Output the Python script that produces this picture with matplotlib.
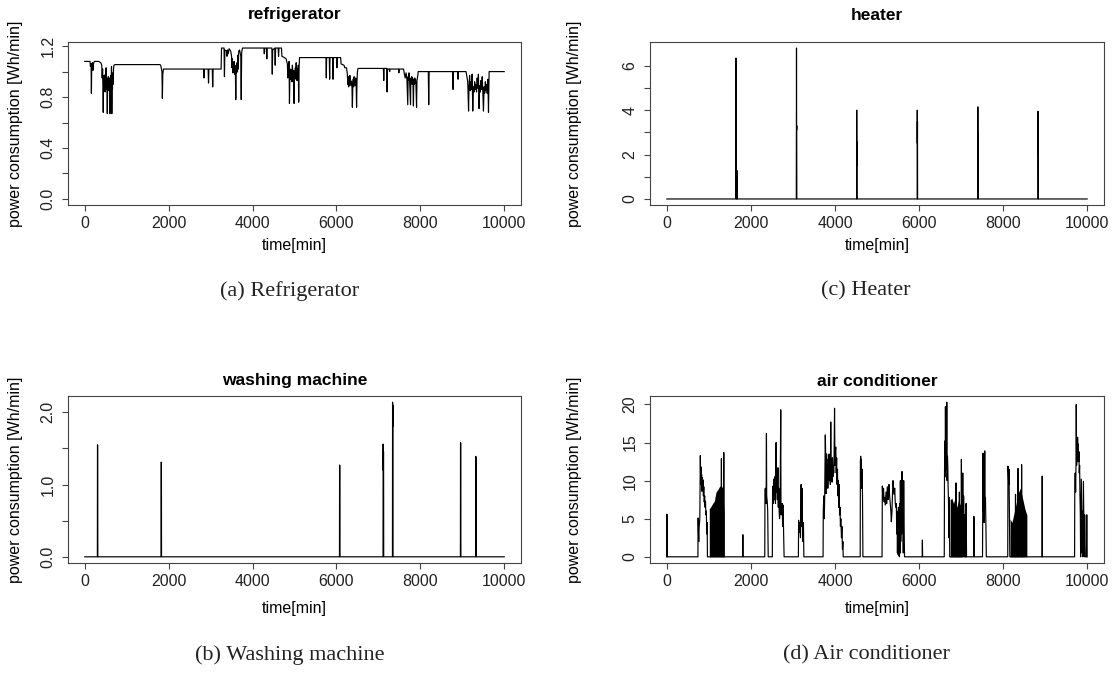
import matplotlib
matplotlib.use("Agg")
import matplotlib.pyplot as plt
import numpy as np

# ---- data (time [min], power [Wh/min]) ----
fridge_points = [
    (0, 1.08), (125, 1.08), (135, 1.04), (150, 1.06), (158, 0.83), (166, 1.06), (185, 1.07),
    (195, 1.01), (205, 1.06), (230, 1.08), (330, 1.08), (380, 1.07), (405, 1.05),
    (415, 0.95), (425, 1.02), (435, 0.88), (440, 0.68), (447, 0.95), (455, 0.86), (462, 0.97),
    (470, 0.88), (478, 0.93), (485, 0.84), (492, 0.98), (500, 0.86), (508, 1.03), (515, 0.87),
    (522, 0.95), (530, 0.85), (537, 0.67), (545, 0.92), (552, 0.85), (560, 0.96), (568, 0.88),
    (575, 0.93), (582, 0.86), (590, 0.95), (600, 0.67), (607, 0.90), (615, 0.85), (622, 0.97),
    (630, 0.88), (637, 1.04), (645, 0.67), (652, 0.92), (660, 0.86), (668, 0.99), (675, 0.90),
    (685, 1.02), (695, 1.05), (720, 1.055), (1790, 1.055), (1810, 1.05), (1840, 1.0),
    (1850, 0.79), (1860, 0.98), (1875, 1.02), (2830, 1.02), (2840, 0.95), (2850, 1.02),
    (2940, 1.02), (2950, 0.91), (2960, 1.02), (3040, 1.02), (3050, 0.88), (3060, 1.02),
    (3250, 1.02), (3260, 1.185), (3320, 1.185), (3330, 0.96), (3340, 1.17), (3380, 1.16),
    (3390, 1.12), (3400, 1.17), (3420, 1.14), (3440, 1.18), (3480, 1.16), (3500, 1.12),
    (3510, 1.03), (3520, 1.10), (3530, 0.99), (3540, 1.06), (3550, 1.00), (3560, 1.08),
    (3570, 0.98), (3580, 1.05), (3590, 1.01), (3600, 0.78), (3610, 1.04), (3620, 0.99),
    (3630, 1.07), (3640, 1.00), (3650, 1.13), (3660, 1.02), (3670, 1.16), (3690, 1.17),
    (3720, 1.12), (3730, 0.78), (3740, 1.15), (3760, 1.185), (4270, 1.185), (4280, 1.14),
    (4290, 1.185), (4330, 1.185), (4340, 1.10), (4350, 1.185), (4460, 1.185), (4470, 0.98),
    (4480, 1.17), (4530, 1.185), (4540, 1.05), (4550, 1.185), (4610, 1.185), (4620, 1.12),
    (4630, 1.185), (4690, 1.185), (4700, 1.12), (4760, 1.11), (4800, 1.10), (4830, 1.06),
    (4840, 0.95), (4850, 1.03), (4860, 0.96), (4870, 1.08), (4880, 0.75), (4890, 0.98),
    (4900, 0.94), (4910, 1.02), (4920, 0.95), (4930, 1.00), (4940, 0.92), (4950, 1.05),
    (4960, 0.97), (4970, 0.93), (4980, 1.01), (4990, 0.75), (5000, 0.99), (5010, 0.94),
    (5020, 1.03), (5030, 0.96), (5040, 1.07), (5050, 0.97), (5060, 0.93), (5070, 1.02),
    (5080, 0.96), (5090, 1.05), (5100, 0.76), (5110, 1.04), (5120, 1.11), (5750, 1.11),
    (5758, 0.95), (5766, 1.11), (5830, 1.11), (5838, 0.94), (5846, 1.11), (5910, 1.11),
    (5918, 0.94), (5926, 1.11), (6005, 1.11), (6012, 1.03), (6020, 1.11), (6100, 1.11),
    (6110, 1.06), (6180, 1.05), (6200, 1.03), (6240, 1.03), (6260, 0.98),
    (6270, 0.90), (6280, 0.96), (6290, 0.88), (6300, 0.94), (6310, 0.89), (6320, 0.97),
    (6330, 0.90), (6340, 0.93), (6350, 0.89), (6360, 0.92), (6370, 0.88), (6380, 0.72),
    (6390, 0.89), (6400, 0.94), (6410, 0.88), (6420, 0.96), (6430, 0.90), (6440, 0.92),
    (6450, 0.89), (6460, 0.95), (6470, 0.90), (6480, 0.72), (6490, 0.92), (6500, 1.00),
    (6515, 1.025), (7120, 1.025), (7128, 0.93), (7136, 1.025), (7200, 1.025), (7208, 0.84),
    (7216, 1.02), (7260, 1.02), (7268, 1.0), (7276, 1.02), (7480, 1.02), (7488, 0.99),
    (7496, 1.02), (7600, 1.02), (7620, 0.98), (7640, 0.95), (7660, 0.99), (7680, 0.94),
    (7700, 0.74), (7710, 0.96), (7720, 0.93), (7730, 0.99), (7745, 0.92), (7766, 0.74),
    (7775, 0.95), (7785, 0.91), (7795, 0.96), (7805, 0.90), (7815, 0.95), (7825, 0.91),
    (7835, 0.73), (7845, 0.94), (7855, 0.90), (7865, 0.95), (7875, 0.91), (7885, 0.94),
    (7895, 0.90), (7910, 0.72), (7920, 0.93), (7935, 0.96), (7950, 1.0), (7965, 1.0),
    (8190, 1.0), (8200, 0.74), (8210, 1.0), (8770, 1.0), (8780, 0.86), (8790, 1.0),
    (8890, 1.0), (8900, 0.94), (8910, 1.0), (9090, 1.0), (9110, 0.96), (9130, 0.92),
    (9150, 0.69), (9160, 0.88), (9175, 0.97), (9190, 0.85), (9205, 0.92), (9220, 0.86),
    (9235, 0.98), (9250, 0.69), (9265, 0.88), (9280, 0.84), (9295, 0.92), (9310, 0.86),
    (9325, 0.90), (9340, 0.84), (9355, 0.95), (9370, 0.87), (9385, 0.98), (9400, 0.71),
    (9415, 0.89), (9430, 0.84), (9445, 0.93), (9460, 0.86), (9475, 0.96), (9490, 0.84),
    (9505, 0.69), (9520, 0.88), (9535, 0.83), (9550, 0.92), (9565, 0.85), (9580, 0.90),
    (9595, 0.83), (9610, 0.94), (9625, 0.68), (9640, 1.0), (10000, 1.0),
]

heater_points = [
    (0, 0), (1640, 0), (1645, 6.35), (1648, 3.2), (1650, 3.7), (1653, 0), (1665, 0),
    (1668, 1.28), (1672, 0.4), (1675, 0), (3080, 0), (3085, 6.8), (3088, 3.1), (3090, 3.3),
    (3093, 0), (4515, 0), (4518, 4.0), (4521, 1.5), (4523, 2.6), (4526, 0), (5955, 0),
    (5958, 4.0), (5961, 2.5), (5963, 3.5), (5966, 0), (7396, 0), (7399, 4.15), (7402, 2.3),
    (7404, 3.0), (7407, 0), (8828, 0), (8831, 3.95), (8834, 2.0), (8836, 2.1), (8839, 0),
    (10000, 0),
]

washer_points = [
    (0, 0), (300, 0), (303, 1.55), (308, 1.54), (311, 0), (1818, 0), (1821, 1.31),
    (1827, 1.30), (1830, 0), (6072, 0), (6075, 1.27), (6081, 1.26), (6084, 0), (7110, 0),
    (7113, 1.56), (7116, 1.2), (7119, 1.47), (7124, 1.45), (7127, 0), (7335, 0),
    (7338, 2.14), (7342, 1.8), (7346, 2.1), (7349, 0), (8955, 0), (8958, 1.58),
    (8964, 1.57), (8967, 0), (9320, 0), (9323, 1.39), (9327, 1.0), (9331, 1.37),
    (9334, 0), (10000, 0),
]

aircon_points = [
    (0, 0), (2, 5.6), (6, 0), (740, 0),
    (745, 5.1), (752, 3.2), (760, 2.0), (770, 4.0), (785, 5.0), (797, 13.3), (805, 10.5),
    (812, 11.8), (820, 9.5), (828, 10.8), (836, 8.6), (844, 10.4), (852, 9.0), (860, 10.1),
    (870, 8.0), (880, 9.2), (890, 7.2), (900, 8.0), (910, 6.5), (920, 7.3), (930, 5.5),
    (940, 6.0), (950, 3.0), (960, 4.5), (966, 0),
    (1295, 0), (1299, 12.9), (1303, 0), (1351, 0), (1355, 13.7), (1359, 0),
    (1805, 0), (1809, 2.9), (1813, 0),
    (2330, 0), (2335, 8.8), (2345, 9.0), (2355, 8.2), (2362, 7.0), (2370, 16.2), (2376, 8.0),
    (2390, 7.2), (2400, 6.0), (2412, 0),
    (2510, 0), (2515, 8.5), (2525, 9.3), (2535, 7.0), (2545, 10.2), (2555, 7.5), (2565, 10.5),
    (2575, 8.0), (2585, 7.0), (2600, 15.0), (2608, 8.5), (2620, 11.0), (2630, 7.5),
    (2643, 11.7), (2652, 6.5), (2662, 9.0), (2672, 6.0), (2682, 5.0), (2695, 7.0),
    (2710, 19.3), (2716, 5.5), (2725, 7.0), (2735, 6.2), (2745, 7.0), (2755, 4.0),
    (2765, 6.8), (2778, 3.0), (2790, 0),
    (3130, 0), (3135, 4.8), (3150, 3.2), (3165, 4.5), (3180, 2.5), (3195, 9.5), (3205, 4.0),
    (3215, 9.0), (3225, 5.0), (3240, 2.0), (3250, 4.5), (3260, 0),
    (3717, 0), (3722, 6.0), (3735, 8.0), (3745, 5.0), (3755, 7.5), (3770, 16.0), (3780, 13.0),
    (3790, 8.3), (3800, 13.5), (3810, 11.0), (3820, 12.8), (3830, 9.0), (3840, 12.0),
    (3850, 10.5), (3860, 13.5), (3870, 10.0), (3880, 12.5), (3890, 9.5), (3900, 17.7),
    (3910, 10.0), (3920, 11.5), (3930, 9.8), (3940, 13.0), (3950, 10.5), (3960, 12.0),
    (3970, 11.0), (3980, 13.5), (3990, 19.5), (4000, 12.0), (4010, 14.0), (4020, 14.4),
    (4030, 11.0), (4040, 13.0), (4050, 9.5), (4060, 11.5), (4070, 8.0), (4080, 10.0),
    (4090, 6.5), (4100, 9.5), (4110, 5.5), (4120, 6.5), (4130, 4.0), (4140, 5.0),
    (4155, 2.5), (4165, 4.0), (4178, 1.0), (4188, 2.0), (4196, 0),
    (4600, 0), (4605, 12.5), (4612, 13.2), (4620, 10.0), (4628, 12.8), (4636, 9.0),
    (4645, 11.5), (4655, 8.0), (4665, 0),
    (5120, 0), (5127, 9.3), (5140, 7.5), (5155, 9.0), (5170, 7.2), (5185, 7.8), (5200, 6.8),
    (5215, 8.5), (5230, 7.0), (5245, 9.2), (5262, 7.5), (5275, 8.8), (5286, 9.5), (5300, 8.0),
    (5315, 7.0), (5330, 6.0), (5341, 4.6), (5355, 5.8), (5370, 8.5), (5381, 10.0),
    (5395, 9.0), (5410, 8.2), (5421, 9.0), (5435, 7.0), (5450, 6.5), (5460, 7.0),
    (5470, 3.0), (5478, 6.0), (5486, 0.5), (5494, 5.5), (5502, 0.3), (5510, 6.5),
    (5518, 0.2), (5526, 5.0), (5534, 0), (5542, 7.0), (5550, 0.5), (5556, 10.0),
    (5565, 2.0), (5575, 8.0), (5585, 3.0), (5595, 11.2), (5605, 4.0), (5615, 7.0),
    (5625, 0.5), (5635, 10.0), (5645, 4.0), (5655, 0),
    (6075, 0), (6080, 2.2), (6085, 0),
    (6600, 0), (6605, 9.8), (6612, 15.2), (6620, 10.5), (6628, 19.7), (6636, 12.0),
    (6644, 13.2), (6652, 11.5), (6660, 20.3), (6668, 10.0), (6676, 13.2), (6684, 12.0),
    (6692, 9.0), (6700, 7.5), (6710, 2.5), (6720, 7.8), (6730, 0),
    (6875, 0), (6880, 9.7), (6885, 0), (6955, 0), (6960, 8.5), (6965, 0), (7003, 0),
    (7008, 12.8), (7013, 0), (7030, 0), (7040, 11.0), (7050, 2.0), (7060, 8.0),
    (7070, 4.5), (7080, 5.5), (7090, 0), (7110, 0), (7120, 7.0), (7130, 0),
    (7300, 0), (7305, 5.3), (7310, 3.5), (7315, 0),
    (7510, 0), (7515, 5.0), (7522, 13.6), (7530, 6.0), (7540, 8.0), (7548, 4.5),
    (7556, 7.5), (7563, 13.9), (7570, 7.0), (7580, 7.8), (7590, 4.5), (7600, 0),
    (8110, 0), (8116, 11.9), (8124, 11.0), (8132, 9.5), (8140, 11.5), (8150, 5.0), (8160, 0),
    (8290, 0), (8295, 8.2), (8300, 0), (8350, 0), (8355, 11.6), (8360, 0), (8435, 0),
    (8440, 12.1), (8445, 0), (8520, 0), (8525, 6.0), (8535, 5.8), (8545, 0),
    (8925, 0), (8930, 10.6), (8935, 0),
    (9700, 0), (9705, 9.0), (9715, 11.0), (9725, 8.5), (9735, 12.5), (9740, 20.0),
    (9748, 12.0), (9756, 14.0), (9764, 12.5), (9772, 15.7), (9780, 13.0), (9788, 14.8),
    (9796, 12.5), (9804, 13.8), (9812, 11.0), (9820, 12.0), (9828, 8.0), (9836, 6.0),
    (9844, 0), (9852, 5.5), (9860, 10.2), (9868, 5.0), (9876, 0.5), (9884, 6.0),
    (9892, 0), (9900, 5.0), (9910, 9.9), (9920, 5.5), (9930, 0), (9940, 5.5), (9950, 0),
    (9980, 0), (9985, 5.5), (9995, 5.5), (10000, 0),
]

# stretches where the air conditioner switches on/off every minute (drawn solid)
aircon_dense = [
    ([1010, 1050, 1090, 1130, 1170, 1210, 1250, 1290, 1330, 1365],
     [6.3, 6.6, 7.0, 7.3, 8.5, 8.8, 9.2, 9.4, 9.0, 5.5]),
    ([6740, 6780, 6820, 6860, 6900, 6940, 6980, 7020, 7060, 7100, 7120],
     [7.5, 7.7, 7.0, 7.8, 6.5, 7.5, 6.8, 7.5, 5.0, 4.5, 3.0]),
    ([8165, 8210, 8250, 8290, 8330, 8370, 8410, 8450, 8490, 8530, 8565],
     [5.0, 4.5, 5.5, 6.5, 7.5, 8.5, 9.0, 8.0, 7.0, 6.0, 5.5]),
]

x_ticks = [0, 2000, 4000, 6000, 8000, 10000]
fridge_yticks = [0.0, 0.2, 0.4, 0.6, 0.8, 1.0, 1.2]
heater_yticks = [0, 1, 2, 3, 4, 5, 6]
washer_yticks = [0.0, 0.5, 1.0, 1.5, 2.0]
aircon_yticks = [0, 5, 10, 15, 20]

W, H = 1115, 682
FG = "#444444"
plt.rcParams["font.family"] = ["Liberation Sans", "DejaVu Sans"]


def draw_panel(fig, box, points, title, yticks, ylabels, title_y, ylab_x, xlab_y,
               dense=()):
    x0, y0, x1, y1 = box
    ax = fig.add_axes([x0 / W, 1 - y1 / H, (x1 - x0) / W, (y1 - y0) / H])
    t, v = np.array(points, dtype=float).T
    for dt, dv in dense:
        ax.fill_between(dt, 0, dv, color="black", lw=0)
    ax.plot(t, v, color="black", lw=0.85)
    top = v.max()
    ax.set_xlim(-400, 10400)
    ax.set_ylim(-0.04 * top, 1.04 * top)
    ax.set_xticks(x_ticks)
    ax.set_xticklabels([str(x) for x in x_ticks])
    ax.set_yticks(yticks)
    ax.set_yticklabels(ylabels, rotation=90, va="center")
    for s in ax.spines.values():
        s.set_color(FG)
        s.set_linewidth(0.8)
    ax.tick_params(direction="out", length=4.5, width=0.8, color=FG,
                   labelsize=11.5, labelcolor="#222222")
    ax.tick_params(axis="x", pad=3.5)
    ax.tick_params(axis="y", pad=4.5)
    ax.text(0.5, (y1 - title_y) / (y1 - y0), title, transform=ax.transAxes,
            ha="center", va="center", fontsize=12.5, fontweight="bold")
    ax.set_xlabel("time[min]", fontsize=11.5)
    ax.set_ylabel("power consumption [Wh/min]", fontsize=11.5)
    ax.xaxis.set_label_coords(0.5, (y1 - xlab_y + 7) / (y1 - y0))
    ax.yaxis.set_label_coords((ylab_x + 8 - x0) / (x1 - x0), 0.5)
    return ax


fig = plt.figure(figsize=(W / 100, H / 100), dpi=100)

draw_panel(fig, (68, 42, 521, 205), fridge_points, "refrigerator", fridge_yticks,
           ["0.0", "", "0.4", "", "0.8", "", "1.2"], 15, 15, 245)
draw_panel(fig, (650, 42, 1104, 205), heater_points, "heater", heater_yticks,
           ["0", "", "2", "", "4", "", "6"], 15, 574, 245)
draw_panel(fig, (68, 396, 521, 563), washer_points, "washing machine", washer_yticks,
           ["0.0", "", "1.0", "", "2.0"], 381, 15, 608)
draw_panel(fig, (650, 396, 1104, 563), aircon_points, "air conditioner", aircon_yticks,
           ["0", "5", "10", "15", "20"], 381, 574, 608, dense=aircon_dense)

captions = [(290, 291, "(a) Refrigerator"), (866, 291, "(c) Heater"),
            (290, 655, "(b) Washing machine"), (866, 655, "(d) Air conditioner")]
for cx, cy, text in captions:
    fig.text(cx / W, 1 - cy / H, text, ha="center", va="center", fontsize=16,
             family=["Liberation Serif", "DejaVu Serif"], color="#222222")

fig.savefig("out.png", dpi=100)
